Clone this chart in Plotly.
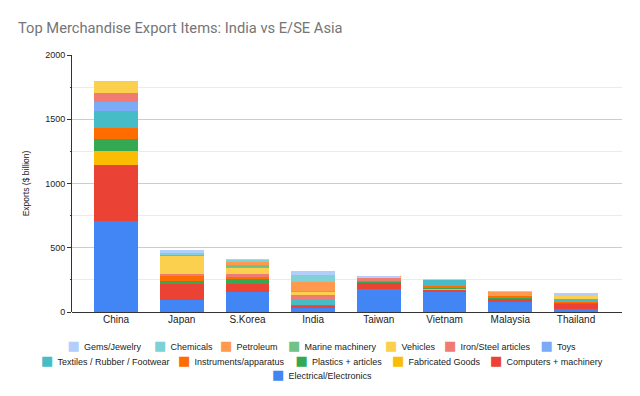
import plotly.graph_objects as go

countries = ["China", "Japan", "S.Korea", "India", "Taiwan", "Vietnam", "Malaysia", "Thailand"]

# stacked bottom -> top
electrical   = [710, 100, 158, 34, 182, 156, 85, 30]
computers    = [439, 121, 65, 13, 44, 18, 22, 39]
fabricated   = [111, 0, 0, 0, 0, 8, 0, 0]
plastics     = [91, 21, 34, 10, 13, 8, 8, 5]
instruments  = [83, 39, 18, 0, 10, 13, 15, 8]
textiles     = [138, 0, 0, 39, 0, 52, 0, 26]
toys         = [65, 0, 0, 0, 0, 0, 0, 0]
iron_steel   = [75, 21, 26, 44, 16, 0, 0, 0]
vehicles     = [80, 135, 49, 21, 10, 0, 0, 21]
marine       = [0, 14, 23, 8, 0, 0, 0, 0]
petroleum    = [0, 0, 23, 65, 5, 0, 30, 0]
chemicals    = [0, 12, 16, 57, 0, 0, 0, 0]
gems         = [0, 13, 0, 26, 0, 0, 0, 13]

series_names = ["Electrical/Electronics", "Computers + machinery", "Fabricated Goods",
                "Plastics + articles", "Instruments/apparatus", "Textiles / Rubber / Footwear",
                "Toys", "Iron/Steel articles", "Vehicles", "Marine machinery", "Petroleum",
                "Chemicals", "Gems/Jewelry"]
series_values = [electrical, computers, fabricated, plastics, instruments, textiles,
                 toys, iron_steel, vehicles, marine, petroleum, chemicals, gems]
series_colors = ["#4285F4", "#EA4335", "#FBBC04", "#34A853", "#FF6D01", "#46BDC6",
                 "#7BAAF7", "#F07B72", "#FCD04F", "#71C287", "#FF994D", "#7ED1D7", "#B3CEFB"]

# legend layout: pixel x of each entry's colour square, and row centre
legend_square_x = [273, 491, 393, 296.5, 179, 42, 541.5, 445, 386, 289, 221, 155, 68.5]
legend_row_y = [375.5, 361, 361, 361, 361, 361, 346.5, 346.5, 346.5, 346.5, 346.5, 346.5, 346.5]

W, H = 640, 396

fig = go.Figure()
for name, vals, color in zip(series_names, series_values, series_colors):
    fig.add_trace(go.Bar(
        name=name, x=countries, y=vals, showlegend=False,
        marker=dict(color=color, line=dict(color=color, width=1)),
        width=0.65,
    ))

legends = {}
for i, (name, color) in enumerate(zip(series_names, series_colors)):
    key = "legend" if i == 0 else f"legend{i + 1}"
    label = f"<span style='color:{color};font-size:13px;font-family:DejaVu Sans'>■ </span>{name}"
    fig.add_trace(go.Scatter(
        name=label, x=[None], y=[None], mode="lines", legend=key,
        line=dict(width=0, color="rgba(0,0,0,0)"),
        hoverinfo="skip",
    ))
    legends[key] = dict(
        orientation="h", xref="container", yref="container",
        x=(legend_square_x[i] - 41) / W, xanchor="left",
        y=1 - legend_row_y[i] / H, yanchor="middle",
        font=dict(size=9, color="#222222"), itemwidth=30,
        bgcolor="rgba(0,0,0,0)", borderwidth=0,
    )

fig.update_layout(
    barmode="stack",
    width=W, height=H,
    margin=dict(l=72, r=18, t=55, b=84, autoexpand=False),
    paper_bgcolor="white", plot_bgcolor="white",
    font=dict(family="Liberation Sans, Arial, sans-serif", size=10, color="#444444"),
    title=dict(text="Top Merchandise Export Items: India vs E/SE Asia",
               xref="container", x=18 / W, xanchor="left", y=1 - 28 / H, yanchor="middle",
               font=dict(family="Roboto, sans-serif", size=14.7, color="#757575")),
    **legends,
)
fig.update_xaxes(range=[-0.67, 7.7], showline=False, ticks="", showgrid=False,
                 tickfont=dict(size=10, color="#222222"))
fig.update_yaxes(range=[0, 2000], dtick=500, showgrid=True, gridcolor="#cccccc",
                 showline=True, linecolor="#333333", linewidth=1,
                 ticks="outside", ticklen=4, tickcolor="#333333",
                 zeroline=True, zerolinecolor="#333333", zerolinewidth=1,
                 minor=dict(dtick=250, showgrid=True, gridcolor="#ebebeb",
                            ticks="outside", ticklen=1, tickcolor="#333333"),
                 title=dict(text="Exports ($ billion)", font=dict(size=8.5, color="#222222"), standoff=14),
                 tickfont=dict(size=9, color="#222222"))
# inner half of the crossing tick marks
fig.update_layout(yaxis2=dict(overlaying="y", side="left", anchor="x", range=[0, 2000],
                              dtick=500, ticks="inside", ticklen=5, tickcolor="#333333",
                              showticklabels=False, showgrid=False, zeroline=False,
                              showline=False,
                              minor=dict(dtick=250, ticks="inside", ticklen=3,
                                         tickcolor="#333333", showgrid=False)))

fig.write_html("out.html", config={"displayModeBar": False},
               post_script="document.body.style.margin='0px';")
